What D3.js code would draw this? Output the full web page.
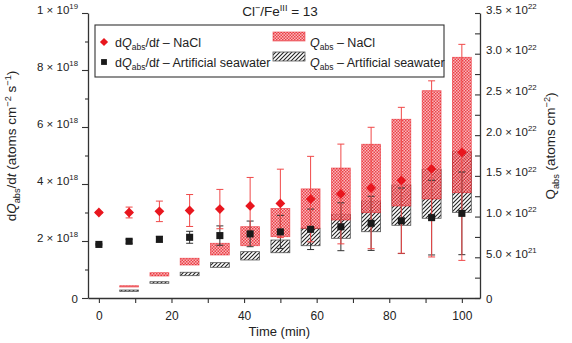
<!DOCTYPE html>
<html>
<head>
<meta charset="utf-8">
<script src="https://cdn.jsdelivr.net/npm/d3@7"></script>
<style>
  body { margin: 0; background: #fff; }
  svg { font-family: "Liberation Sans", Arial, sans-serif; }
</style>
</head>
<body>
<svg width="572" height="343"></svg>
<script>
// время отбора проб (мин)
const times = [0, 8.33, 16.67, 25, 33.33, 41.67, 50, 58.33, 66.67, 75, 83.33, 91.67, 100];
// dQabs/dt, единицы 1e18
const rateNaCl = [3.00, 3.00, 3.04, 3.07, 3.12, 3.23, 3.32, 3.47, 3.65, 3.86, 4.13, 4.53, 5.11];
const rateNaClErr = [0.03, 0.19, 0.36, 0.56, 0.69, 1.0, 1.2, 1.5, 1.75, 2.13, 2.56, 3.09, 3.79];
const rateSea = [1.88, 1.99, 2.06, 2.13, 2.19, 2.25, 2.32, 2.41, 2.50, 2.62, 2.71, 2.82, 2.97];
const rateSeaErr = [0.02, 0.07, 0.1, 0.21, 0.34, 0.45, 0.58, 0.71, 0.84, 0.95, 1.15, 1.31, 1.45];
// Qabs (диапазон), единицы 1e21, для times[1..]
const boxTimes = times.slice(1);
const qNaClLow = [1.35, 2.70, 4.05, 5.28, 6.42, 7.53, 8.56, 9.58, 10.48, 11.3, 12.16, 12.93];
const qNaClHigh = [1.51, 3.11, 4.88, 6.72, 8.76, 11.0, 13.4, 15.96, 18.88, 21.95, 25.46, 29.56];
const qSeaLow = [0.82, 1.81, 2.74, 3.77, 4.67, 5.56, 6.42, 7.33, 8.14, 8.93, 9.79, 10.52];
const qSeaHigh = [0.98, 2.00, 3.16, 4.34, 5.69, 7.12, 8.56, 10.28, 11.91, 13.88, 15.8, 17.97];
// подписи делений
const xTicks = [0, 20, 40, 60, 80, 100];
const leftTicks = [[0, "0"], [2e18, "2", "18"], [4e18, "4", "18"], [6e18, "6", "18"], [8e18, "8", "18"], [1e19, "1", "19"]];
const rightTicks = [[0, "0"], [5e21, "5.0", "21"], [1e22, "1.0", "22"], [1.5e22, "1.5", "22"], [2e22, "2.0", "22"],
                    [2.5e22, "2.5", "22"], [3e22, "3.0", "22"], [3.5e22, "3.5", "22"]];

const RED = "#e8161e";
const ERR_RED = "#f04848";
const DARK = "#1a1a1a";
const AXIS = "#333";

const svg = d3.select("svg");
const plotL = 88, plotR = 480, plotT = 13, plotB = 298;

const x = d3.scaleLinear().domain([-3, 105]).range([plotL, plotR]);
const yL = d3.scaleLinear().domain([0, 1e19]).range([plotB, plotT]);
const yR = d3.scaleLinear().domain([0, 3.5e22]).range([plotB, plotT]);

// текст с курсивом, индексами и степенями
function richText(sel, parts, fs) {
    let shift = 0;
    parts.forEach(p => {
        const target = p.sub ? fs * 0.3 : p.sup ? -fs * 0.4 : 0;
        const ts = sel.append("tspan").text(p.t).attr("dy", target - shift);
        if (p.sub || p.sup) ts.attr("font-size", fs * 0.68);
        if (p.i) ts.attr("font-style", "italic");
        shift = target;
    });
}

// узоры заливки
const defs = svg.append("defs");
const pRed = defs.append("pattern").attr("id", "redCheck")
    .attr("width", 3).attr("height", 3).attr("patternUnits", "userSpaceOnUse");
pRed.append("rect").attr("width", 3).attr("height", 3).attr("fill", "#f7a9ad");
pRed.append("rect").attr("x", 0).attr("y", 0).attr("width", 1.5).attr("height", 1.5).attr("fill", RED);
pRed.append("rect").attr("x", 1.5).attr("y", 1.5).attr("width", 1.5).attr("height", 1.5).attr("fill", RED);

const pBlack = defs.append("pattern").attr("id", "blackHatch")
    .attr("width", 4).attr("height", 4).attr("patternUnits", "userSpaceOnUse");
pBlack.append("path").attr("d", "M-1,1 l2,-2 M0,4 l4,-4 M3,5 l2,-2")
    .attr("stroke", "#222").attr("stroke-width", 1.1);

const boxW = x(5.2) - x(0);

// столбики Qabs
const boxData = boxTimes.map((t, i) => ({t, nLo: qNaClLow[i], nHi: qNaClHigh[i], sLo: qSeaLow[i], sHi: qSeaHigh[i]}));

svg.append("g").selectAll("rect").data(boxData).join("rect")
    .attr("x", d => x(d.t) - boxW / 2)
    .attr("width", boxW)
    .attr("y", d => yR(d.sHi * 1e21))
    .attr("height", d => yR(d.sLo * 1e21) - yR(d.sHi * 1e21))
    .attr("fill", "url(#blackHatch)")
    .attr("stroke", "#555").attr("stroke-width", 0.8);

svg.append("g").selectAll("rect").data(boxData).join("rect")
    .attr("x", d => x(d.t) - boxW / 2)
    .attr("width", boxW)
    .attr("y", d => yR(d.nHi * 1e21))
    .attr("height", d => yR(d.nLo * 1e21) - yR(d.nHi * 1e21))
    .attr("fill", "url(#redCheck)").attr("fill-opacity", 0.82)
    .attr("stroke", RED).attr("stroke-opacity", 0.6).attr("stroke-width", 0.8);

// планки погрешностей
function errorBars(vals, errs, color) {
    const data = times.map((t, i) => ({t, v: vals[i] * 1e18, e: errs[i] * 1e18}));
    const g = svg.append("g").attr("stroke", color).attr("stroke-width", 1);
    g.selectAll(".v").data(data).join("line")
        .attr("x1", d => x(d.t)).attr("x2", d => x(d.t))
        .attr("y1", d => yL(d.v + d.e)).attr("y2", d => yL(d.v - d.e));
    g.selectAll(".hi").data(data).join("line")
        .attr("x1", d => x(d.t) - 3.5).attr("x2", d => x(d.t) + 3.5)
        .attr("y1", d => yL(d.v + d.e)).attr("y2", d => yL(d.v + d.e));
    g.selectAll(".lo").data(data).join("line")
        .attr("x1", d => x(d.t) - 3.5).attr("x2", d => x(d.t) + 3.5)
        .attr("y1", d => yL(d.v - d.e)).attr("y2", d => yL(d.v - d.e));
}
errorBars(rateSea, rateSeaErr, "#333");
errorBars(rateNaCl, rateNaClErr, ERR_RED);

// точки
svg.append("g").selectAll("path").data(times.map((t, i) => ({t, v: rateSea[i] * 1e18}))).join("path")
    .attr("d", d3.symbol(d3.symbolSquare, 50))
    .attr("transform", d => `translate(${x(d.t)},${yL(d.v)})`)
    .attr("fill", DARK);

svg.append("g").selectAll("path").data(times.map((t, i) => ({t, v: rateNaCl[i] * 1e18}))).join("path")
    .attr("d", d3.symbol(d3.symbolSquare, 48))
    .attr("transform", d => `translate(${x(d.t)},${yL(d.v)}) rotate(45)`)
    .attr("fill", RED);

// оси
function styleAxis(g) {
    g.selectAll("path.domain").attr("stroke", AXIS).attr("stroke-width", 1.3);
    g.selectAll(".tick line").attr("stroke", AXIS).attr("stroke-width", 1.1);
}

const gx = svg.append("g").attr("transform", `translate(0,${plotB})`)
    .call(d3.axisBottom(x).tickValues(d3.range(0, 101, 10)).tickSize(5).tickSizeOuter(0)
        .tickFormat(d => xTicks.includes(d) ? d : ""));
styleAxis(gx);
gx.selectAll("text").attr("font-size", 12).attr("fill", "#222").attr("dy", "1.2em");
gx.attr("font-family", null);

const gl = svg.append("g").attr("transform", `translate(${plotL},0)`)
    .call(d3.axisLeft(yL).tickValues(leftTicks.map(d => d[0])).tickSize(6).tickSizeOuter(0).tickPadding(5).tickFormat(""));
styleAxis(gl);
gl.append("g").call(d3.axisLeft(yL).tickValues(d3.range(1e18, 1e19, 2e18)).tickSize(3).tickFormat(""))
    .call(g => g.select(".domain").remove()).call(styleAxis);
gl.attr("font-family", null);
gl.selectAll(".tick").filter(d => leftTicks.some(t => t[0] === d)).each(function(d) {
    const tk = leftTicks.find(t => t[0] === d);
    const txt = d3.select(this).append("text").attr("x", -10).attr("dy", "0.36em")
        .attr("text-anchor", "end").attr("fill", "#222").attr("font-size", 11.5);
    if (d === 0) txt.text(tk[1]);
    else richText(txt, [{t: tk[1] + " × 10"}, {t: tk[2], sup: true}], 11.5);
});

const gr = svg.append("g").attr("transform", `translate(${plotR},0)`)
    .call(d3.axisRight(yR).tickValues(d3.range(0, 3.51e22, 2.5e21)).tickSizeInner(-5).tickSizeOuter(0).tickFormat(""));
styleAxis(gr);
gr.attr("font-family", null);
gr.selectAll(".tick").filter(d => rightTicks.some(t => Math.abs(t[0] - d) < 1e18)).each(function(d) {
    const tk = rightTicks.find(t => Math.abs(t[0] - d) < 1e18);
    const txt = d3.select(this).append("text").attr("x", 6).attr("dy", "0.36em")
        .attr("text-anchor", "start").attr("fill", "#222").attr("font-size", 11.5);
    if (d === 0) txt.text(tk[1]);
    else richText(txt, [{t: tk[1] + " × 10"}, {t: tk[2], sup: true}], 11.5);
});

// подписи осей
svg.append("text").attr("x", (x(0) + x(100)) / 2 - 1).attr("y", 336)
    .attr("text-anchor", "middle").attr("font-size", 13).attr("fill", "#222").text("Time (min)");

const ylab = svg.append("text").attr("transform", "translate(16,146) rotate(-90)")
    .attr("text-anchor", "middle").attr("font-size", 13.5).attr("fill", "#222");
richText(ylab, [{t: "d"}, {t: "Q", i: true}, {t: "abs", sub: true}, {t: "/d"}, {t: "t", i: true},
    {t: " (atoms cm"}, {t: "−2", sup: true}, {t: " s"}, {t: "−1", sup: true}, {t: ")"}], 13.5);

const rlab = svg.append("text").attr("transform", "translate(555,146) rotate(-90)")
    .attr("text-anchor", "middle").attr("font-size", 13.5).attr("fill", "#222");
richText(rlab, [{t: "Q"}, {t: "abs", sub: true}, {t: " (atoms cm"}, {t: "−2", sup: true}, {t: ")"}], 13.5);

// заголовок
const title = svg.append("text").attr("x", 280).attr("y", 16)
    .attr("text-anchor", "middle").attr("font-size", 13.5).attr("fill", "#222");
richText(title, [{t: "Cl"}, {t: "−", sup: true}, {t: "/Fe"}, {t: "III", sup: true}, {t: " = 13"}], 13.5);

// легенда
const LFS = 12.5;
const lg = svg.append("g");
lg.append("rect").attr("x", 95).attr("y", 25).attr("width", 349).attr("height", 52)
    .attr("fill", "#fff").attr("stroke", AXIS).attr("stroke-width", 1.1);
lg.append("path").attr("d", d3.symbol(d3.symbolSquare, 34))
    .attr("transform", "translate(104,42) rotate(45)").attr("fill", RED);
lg.append("path").attr("d", d3.symbol(d3.symbolSquare, 34))
    .attr("transform", "translate(104,62)").attr("fill", DARK);
const l1 = lg.append("text").attr("x", 115).attr("y", 46.5).attr("font-size", LFS).attr("fill", "#222");
richText(l1, [{t: "d"}, {t: "Q", i: true}, {t: "abs", sub: true}, {t: "/d"}, {t: "t", i: true}, {t: " – NaCl"}], LFS);
const l2 = lg.append("text").attr("x", 115).attr("y", 66.5).attr("font-size", LFS).attr("fill", "#222");
richText(l2, [{t: "d"}, {t: "Q", i: true}, {t: "abs", sub: true}, {t: "/d"}, {t: "t", i: true}, {t: " – Artificial seawater"}], LFS);
lg.append("rect").attr("x", 273).attr("y", 32).attr("width", 32).attr("height", 9)
    .attr("fill", "url(#redCheck)").attr("fill-opacity", 0.82)
    .attr("stroke", RED).attr("stroke-opacity", 0.6).attr("stroke-width", 0.8);
lg.append("rect").attr("x", 273).attr("y", 52).attr("width", 32).attr("height", 9)
    .attr("fill", "url(#blackHatch)").attr("stroke", "#555").attr("stroke-width", 0.8);
const l3 = lg.append("text").attr("x", 310).attr("y", 46.5).attr("font-size", LFS).attr("fill", "#222");
richText(l3, [{t: "Q", i: true}, {t: "abs", sub: true}, {t: " – NaCl"}], LFS);
const l4 = lg.append("text").attr("x", 310).attr("y", 66.5).attr("font-size", LFS).attr("fill", "#222");
richText(l4, [{t: "Q", i: true}, {t: "abs", sub: true}, {t: " – Artificial seawater"}], LFS);
</script>
</body>
</html>
